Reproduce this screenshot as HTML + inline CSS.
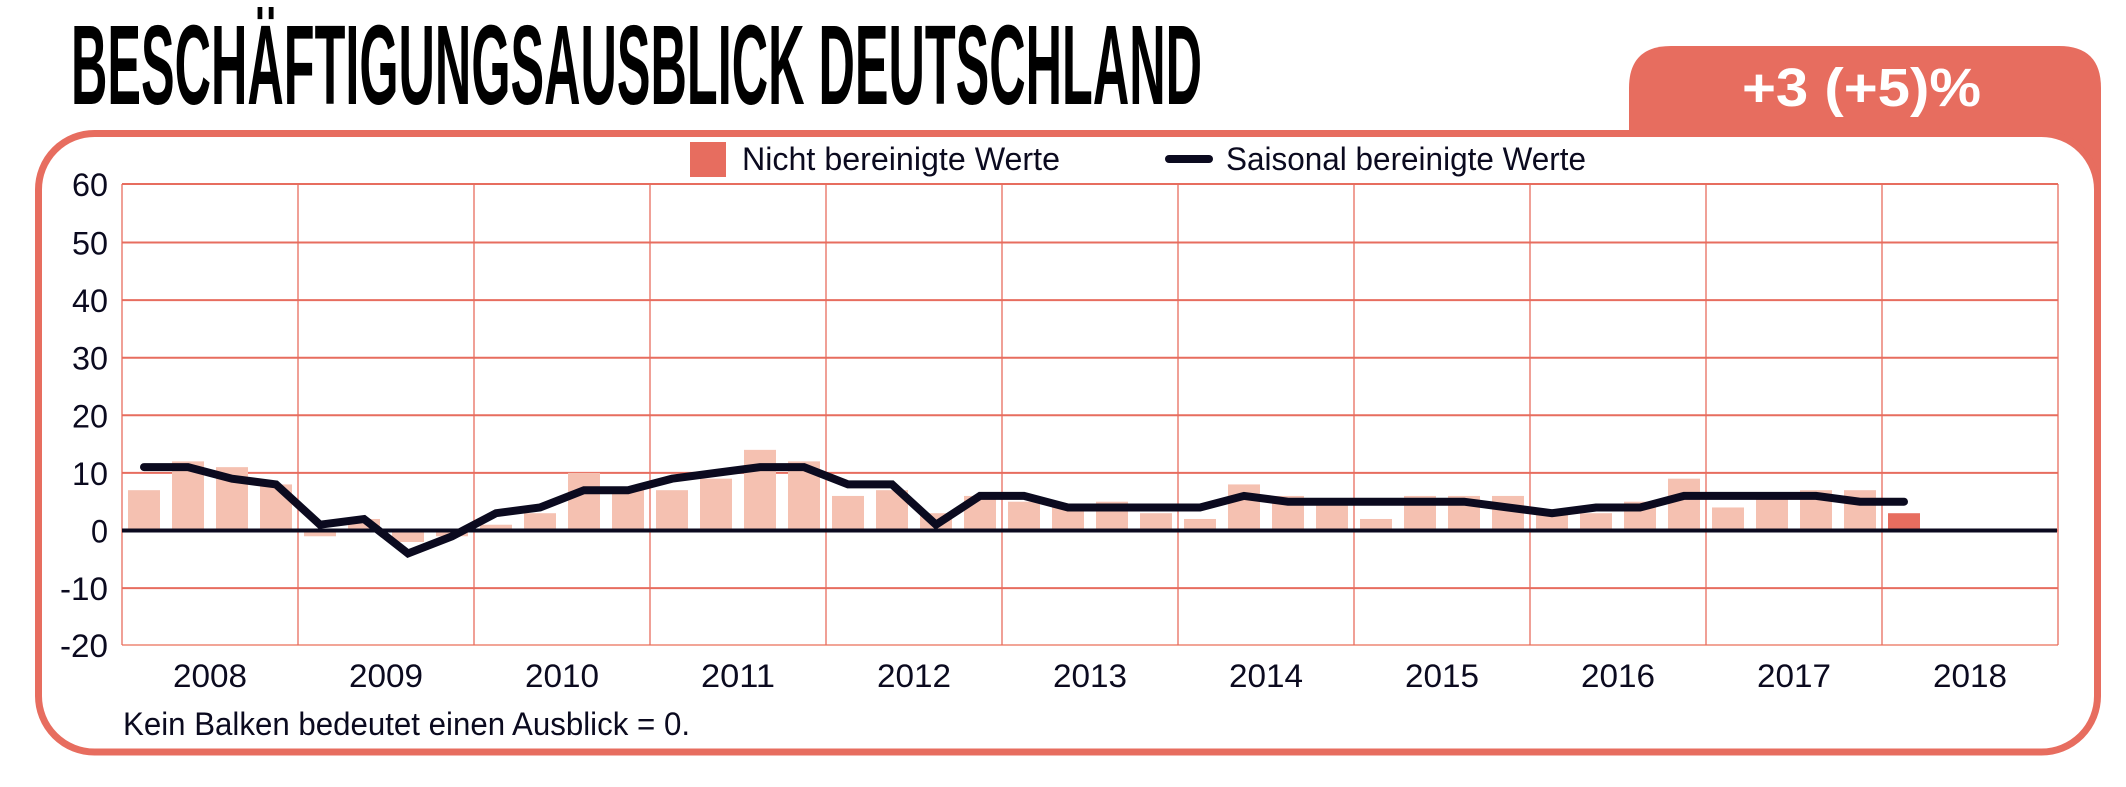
<!DOCTYPE html>
<html><head><meta charset="utf-8"><style>
html,body{margin:0;padding:0;background:#fff;}
svg{display:block;}
text{font-family:"Liberation Sans",sans-serif;fill:#0b0a1f;}
</style></head><body>
<svg width="2126" height="787" viewBox="0 0 2126 787" xmlns="http://www.w3.org/2000/svg">
<rect width="2126" height="787" fill="#fff"/>
<text x="71" y="104" font-size="113" font-weight="bold" textLength="1131" lengthAdjust="spacingAndGlyphs" style="fill:#000">BESCHÄFTIGUNGSAUSBLICK DEUTSCHLAND</text>
<path d="M1629,200 L1629,88 Q1629,46 1671,46 L2059,46 Q2101,46 2101,88 L2101,200 Z" fill="#e76d5f"/>
<text x="1742" y="106" font-size="54" font-weight="bold" textLength="239" lengthAdjust="spacingAndGlyphs" style="fill:#fff">+3 (+5)%</text>
<rect x="38.5" y="133.5" width="2059" height="618.5" rx="56" ry="56" fill="#fff" stroke="#e76d5f" stroke-width="7"/>
<rect x="690" y="142" width="36" height="35" fill="#e76d5f"/>
<text x="742" y="170" font-size="32" textLength="318" lengthAdjust="spacingAndGlyphs">Nicht bereinigte Werte</text>
<line x1="1169" y1="159" x2="1209" y2="159" stroke="#0b0a1f" stroke-width="8" stroke-linecap="round"/>
<text x="1226" y="170" font-size="32" textLength="360" lengthAdjust="spacingAndGlyphs">Saisonal bereinigte Werte</text>
<g id="grid"></g>
<g id="bars"></g>
<line x1="122" y1="530.5" x2="2057" y2="530.5" stroke="#0b0a1f" stroke-width="4"/>
<polyline id="ln" fill="none" stroke="#0b0a1f" stroke-width="8" stroke-linecap="round" stroke-linejoin="miter"/>
<g id="labels"></g>
<text x="123" y="735" font-size="32" textLength="567" lengthAdjust="spacingAndGlyphs">Kein Balken bedeutet einen Ausblick = 0.</text>
</svg>
<script>
var ns="http://www.w3.org/2000/svg";
function el(p,t,a,txt){var e=document.createElementNS(ns,t);for(var k in a)e.setAttribute(k,a[k]);if(txt!=null)e.textContent=txt;document.getElementById(p).appendChild(e);return e;}
var L=122,R=2058,T=184,B=645,cw=176;
function Y(v){return 530.5-v*5.76;}
for(var v=-20;v<=60;v+=10){var y=Y(v);if(v==-20)y=645;if(v==60)y=184;
 el("grid","line",{x1:L,x2:R,y1:y,y2:y,stroke:v==-20?"#f2a597":"#e76d5f","stroke-width":2});
 var w=v<0?48:(v==0?17:36);
 el("labels","text",{x:108,y:y+12,"font-size":32,"text-anchor":"end",textLength:w,lengthAdjust:"spacingAndGlyphs"},String(v));}
for(var i=0;i<=11;i++){var x=L+i*cw;el("grid","line",{x1:x,x2:x,y1:T,y2:B,stroke:"#e76d5f","stroke-width":1.3});
 if(i<11)el("labels","text",{x:L+i*cw+cw/2,y:687,"font-size":32,"text-anchor":"middle",textLength:74,lengthAdjust:"spacingAndGlyphs"},String(2008+i));}
var bars=[7,12,11,8,-1,2,-2,-1,1,3,10,7,7,9,14,12,6,7,3,6,5,4,5,3,2,8,6,5,2,6,6,6,3,3,5,9,4,6,7,7,3];
var line=[11,11,9,8,1,2,-4,-1,3,4,7,7,9,10,11,11,8,8,1,6,6,4,4,4,4,6,5,5,5,5,5,4,3,4,4,6,6,6,6,5,5];
var pts=[];
for(var j=0;j<bars.length;j++){var cx=L+44*j+22,b=bars[j];
 var y0=Y(0),y1=Y(b);
 el("bars","rect",{x:cx-16,y:Math.min(y0,y1),width:32,height:Math.abs(y1-y0),fill:j==40?"#e76d5f":"#f5c1b1"});
 pts.push(cx+","+Y(line[j]).toFixed(1));}
document.getElementById("ln").setAttribute("points",pts.join(" "));
</script>
</body></html>
